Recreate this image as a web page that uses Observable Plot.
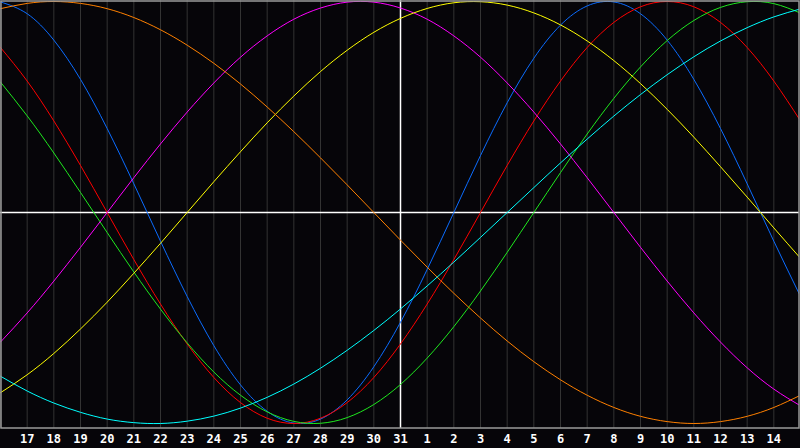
<!DOCTYPE html>
<html>
<head>
<meta charset="utf-8">
<script src="https://cdn.jsdelivr.net/npm/d3@7"></script>
<script src="https://cdn.jsdelivr.net/npm/@observablehq/plot@0.6"></script>
<style>
  html, body { margin: 0; padding: 0; background: #060509; }
  #chart svg { display: block; }
</style>
</head>
<body>
<div id="chart"></div>
<script>
// Day labels along the x axis (index 0..30)
const dayLabels = ["16","17","18","19","20","21","22","23","24","25","26","27","28","29","30","31",
                   "1","2","3","4","5","6","7","8","9","10","11","12","13","14","15"];

// Cycle values (-1..1) read per day
const physical = [0.998,0.942,0.817,0.631,0.398,0.136,-0.136,-0.398,-0.631,-0.817,-0.942,-0.998,-0.979,-0.888,-0.731,-0.520,-0.270,0.000,0.270,0.520,0.731,0.888,0.979,0.998,0.942,0.817,0.631,0.398,0.136,-0.136,-0.398];
const emotional = [0.782,0.623,0.434,0.223,0.000,-0.223,-0.434,-0.623,-0.782,-0.901,-0.975,-1.000,-0.975,-0.901,-0.782,-0.623,-0.434,-0.223,0.000,0.223,0.434,0.623,0.782,0.901,0.975,1.000,0.975,0.901,0.782,0.623,0.434];
const intellectual = [0.618,0.458,0.282,0.095,-0.095,-0.282,-0.458,-0.618,-0.756,-0.866,-0.945,-0.990,-0.999,-0.972,-0.910,-0.815,-0.690,-0.541,-0.372,-0.189,0.000,0.189,0.372,0.541,0.690,0.815,0.910,0.972,0.999,0.990,0.945];
const intuitive = [-0.614,-0.476,-0.325,-0.165,0.000,0.165,0.325,0.476,0.614,0.736,0.837,0.916,0.969,0.997,0.997,0.969,0.916,0.837,0.736,0.614,0.476,0.325,0.165,0.000,-0.165,-0.325,-0.476,-0.614,-0.736,-0.837,-0.916];
const aesthetic = [-0.854,-0.769,-0.668,-0.552,-0.425,-0.288,-0.146,0.000,0.146,0.288,0.425,0.552,0.668,0.769,0.854,0.920,0.967,0.994,0.999,0.983,0.946,0.889,0.813,0.720,0.611,0.489,0.357,0.217,0.073,-0.073,-0.217];
const awareness = [0.966,0.991,1.000,0.991,0.966,0.924,0.866,0.793,0.707,0.609,0.500,0.383,0.259,0.131,0.000,-0.131,-0.259,-0.383,-0.500,-0.609,-0.707,-0.793,-0.866,-0.924,-0.966,-0.991,-1.000,-0.991,-0.966,-0.924,-0.866];
const spiritual = [-0.776,-0.846,-0.903,-0.947,-0.979,-0.996,-1.000,-0.989,-0.965,-0.927,-0.876,-0.813,-0.738,-0.653,-0.559,-0.457,-0.348,-0.235,-0.118,0.000,0.118,0.235,0.348,0.457,0.559,0.653,0.738,0.813,0.876,0.927,0.965];

const seriesNames = ["physical","emotional","intellectual","intuitive","aesthetic","awareness","spiritual"];
const seriesValues = [physical, emotional, intellectual, intuitive, aesthetic, awareness, spiritual];
const seriesColors = ["#0b6cff","#ff0000","#1ee81e","#ff00ff","#ffff00","#ff8000","#00ffff"];

const rows = [];
seriesNames.forEach((name, s) => {
  seriesValues[s].forEach((v, i) => rows.push({series: name, i, v}));
});
const dayIndex = dayLabels.map((d, i) => i);
const centerDay = dayLabels.indexOf("31");

const chart = Plot.plot({
  width: 800,
  height: 448,
  marginLeft: 0,
  marginRight: 1,
  marginTop: 0,
  marginBottom: 20,
  style: {background: "#060509", color: "white", fontFamily: "DejaVu Sans Mono", fontSize: "12px", fontWeight: "bold"},
  x: {domain: [0, dayLabels.length - 1], range: [0, 800], label: null},
  y: {domain: [-1, 1], range: [423, 1], axis: null},
  color: {domain: seriesNames, range: seriesColors},
  marks: [
    Plot.ruleX(dayIndex, {stroke: "#333333", strokeWidth: 1}),
    Plot.ruleX([centerDay], {stroke: "#ffffff", strokeWidth: 1.5}),
    Plot.ruleY([0], {stroke: "#ffffff", strokeWidth: 1.5}),
    Plot.line(rows, {x: "i", y: "v", z: "series", stroke: "series", curve: "natural", strokeWidth: 1, clip: true}),
    Plot.frame({stroke: "#9a9a9a", strokeWidth: 1.5, inset: 0.5}),
    Plot.axisX(dayIndex.slice(1, -1), {
      label: null,
      tickFormat: i => dayLabels[i],
      tickSize: 0,
      tickPadding: 6,
      fill: "white",
      fontWeight: "bold",
      fontSize: 12,
      fontFamily: "DejaVu Sans Mono"
    })
  ]
});
document.getElementById("chart").appendChild(chart);
</script>
</body>
</html>
